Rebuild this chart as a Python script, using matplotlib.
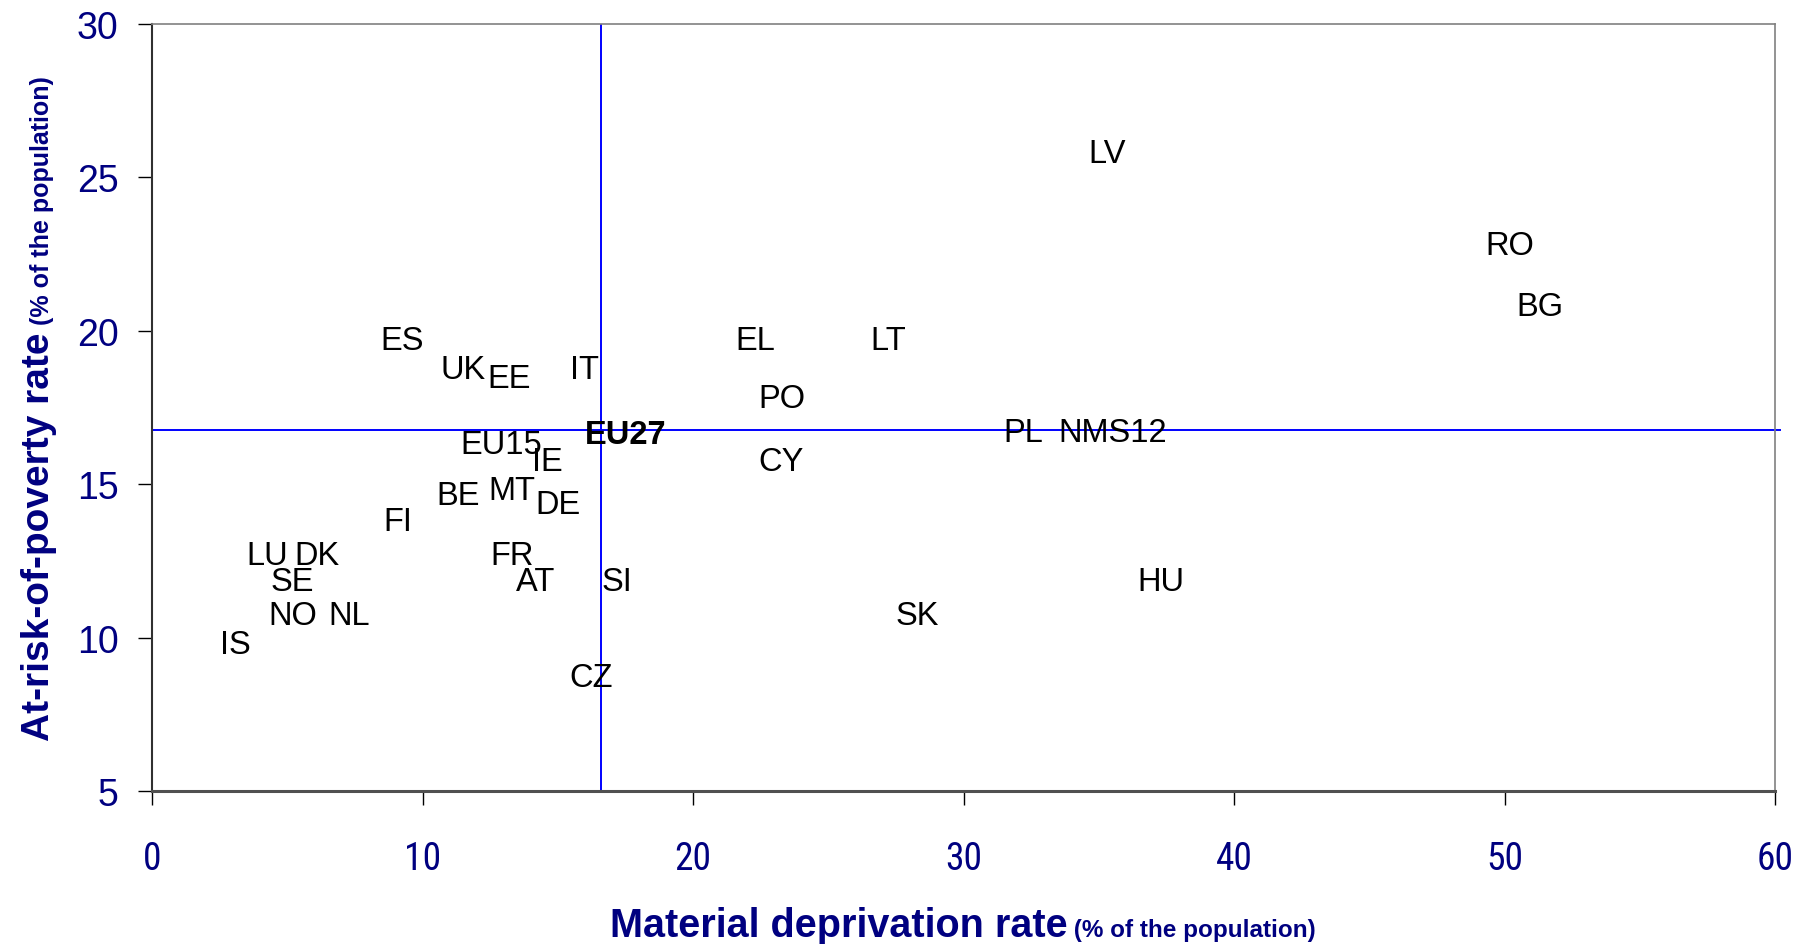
import matplotlib
matplotlib.use("Agg")
import matplotlib.pyplot as plt
import matplotlib.font_manager as fm

# ---- data (label positions) ----
countries = ["LV", "RO", "BG", "ES", "EL", "LT", "UK", "EE", "IT", "PO",
             "EU27", "PL", "NMS12", "EU15", "IE", "CY", "BE", "MT", "DE", "FI",
             "LU", "DK", "FR", "SE", "AT", "SI", "HU", "NO", "NL", "SK", "IS", "CZ"]
material_deprivation = [35.3, 50.2, 51.3, 9.25, 22.3, 27.2, 11.5, 13.2, 16.0, 23.3,
                        17.5, 32.2, 35.5, 12.9, 14.6, 23.25, 11.3, 13.3, 15.0, 9.1,
                        4.25, 6.1, 13.3, 5.2, 14.2, 17.2, 37.3, 5.2, 7.3, 28.3, 3.1, 16.25]
at_risk_poverty = [25.9, 22.9, 20.9, 19.8, 19.8, 19.8, 18.85, 18.55, 18.85, 17.9,
                   16.75, 16.8, 16.8, 16.4, 15.85, 15.85, 14.75, 14.9, 14.45, 13.9,
                   12.8, 12.8, 12.8, 11.95, 11.95, 11.95, 11.95, 10.85, 10.85, 10.85, 9.9, 8.8]
eu27_md = 16.6
eu27_arp = 16.78

x_ticks = [0, 10, 20, 30, 40, 50, 60]
y_ticks = [5, 10, 15, 20, 25, 30]

names = {f.name for f in fm.fontManager.ttflist}
narrow_candidates = ["Liberation Sans Narrow", "Roboto Condensed", "Open Sans Condensed",
                     "DejaVu Sans Condensed", "Liberation Sans"]
narrow = next(n for n in narrow_candidates if n in names)
reg = "Liberation Sans"
navy = "#000080"

fig = plt.figure(figsize=(18, 9.45), dpi=100)
ax = fig.add_axes([152 / 1800, 1 - 792 / 945, (1775 - 152) / 1800, (792 - 25) / 945])
ax.set_xlim(0, 60)
ax.set_ylim(5, 30)

ax.axvline(eu27_md, color="#0000FF", lw=1.4, zorder=1)
ax.plot([0, 60.2], [eu27_arp, eu27_arp], color="#0000FF", lw=1.4, clip_on=False, zorder=1)

for c, x, y in zip(countries, material_deprivation, at_risk_poverty):
    ax.text(x, y, c, ha="center", va="center_baseline", fontsize=23.5,
            family=reg, fontweight="bold" if c == "EU27" else "normal", color="black", zorder=3)

ax.set_xticks(x_ticks)
ax.set_yticks(y_ticks)
ax.tick_params(axis="x", direction="out", length=10, width=1, color="black", pad=25,
               labelsize=27, labelcolor=navy)
ax.tick_params(axis="y", direction="out", length=10, width=1, color="black", pad=14,
               labelsize=27, labelcolor=navy)
for lab in ax.get_xticklabels():
    lab.set_family(narrow)
for lab in ax.get_yticklabels():
    lab.set_family(reg)

for s in ["top", "right"]:
    ax.spines[s].set_color("#808080")
    ax.spines[s].set_linewidth(1.2)
ax.spines["left"].set_color("#303030")
ax.spines["left"].set_linewidth(1.5)
ax.spines["bottom"].set_color("#505050")
ax.spines["bottom"].set_linewidth(2.2)

# axis titles composed of a large and a small part
fig.canvas.draw()
r = fig.canvas.get_renderer()

xl_base = 8 / 945
t1 = fig.text(0, xl_base, "Material deprivation rate", family=reg,
              fontweight="bold", fontsize=28.5, color=navy, ha="left", va="baseline")
t2 = fig.text(0, xl_base, " (% of the population)", family=reg,
              fontweight="bold", fontsize=17.5, color=navy, ha="left", va="baseline")
w1 = t1.get_window_extent(r).width
w2 = t2.get_window_extent(r).width
x0 = (963 - (w1 + w2) / 2) / 1800
t1.set_x(x0)
t2.set_x(x0 + w1 / 1800)

yl_base = 49 / 1800
yl1 = fig.text(yl_base, 0, "At-risk-of-poverty rate", family=reg, fontweight="bold",
               fontsize=28, color=navy, rotation=90, rotation_mode="anchor",
               ha="left", va="baseline")
yl2 = fig.text(yl_base, 0, " (% of the population)", family=reg, fontweight="bold",
               fontsize=18, color=navy, rotation=90, rotation_mode="anchor",
               ha="left", va="baseline")
h1 = yl1.get_window_extent(r).height
h2 = yl2.get_window_extent(r).height
ymid = 945 - (792 + 25) / 2
y0 = (ymid - (h1 + h2) / 2) / 945
yl1.set_y(y0)
yl2.set_y(y0 + h1 / 945)

fig.savefig("out.png", dpi=100, facecolor="white")
